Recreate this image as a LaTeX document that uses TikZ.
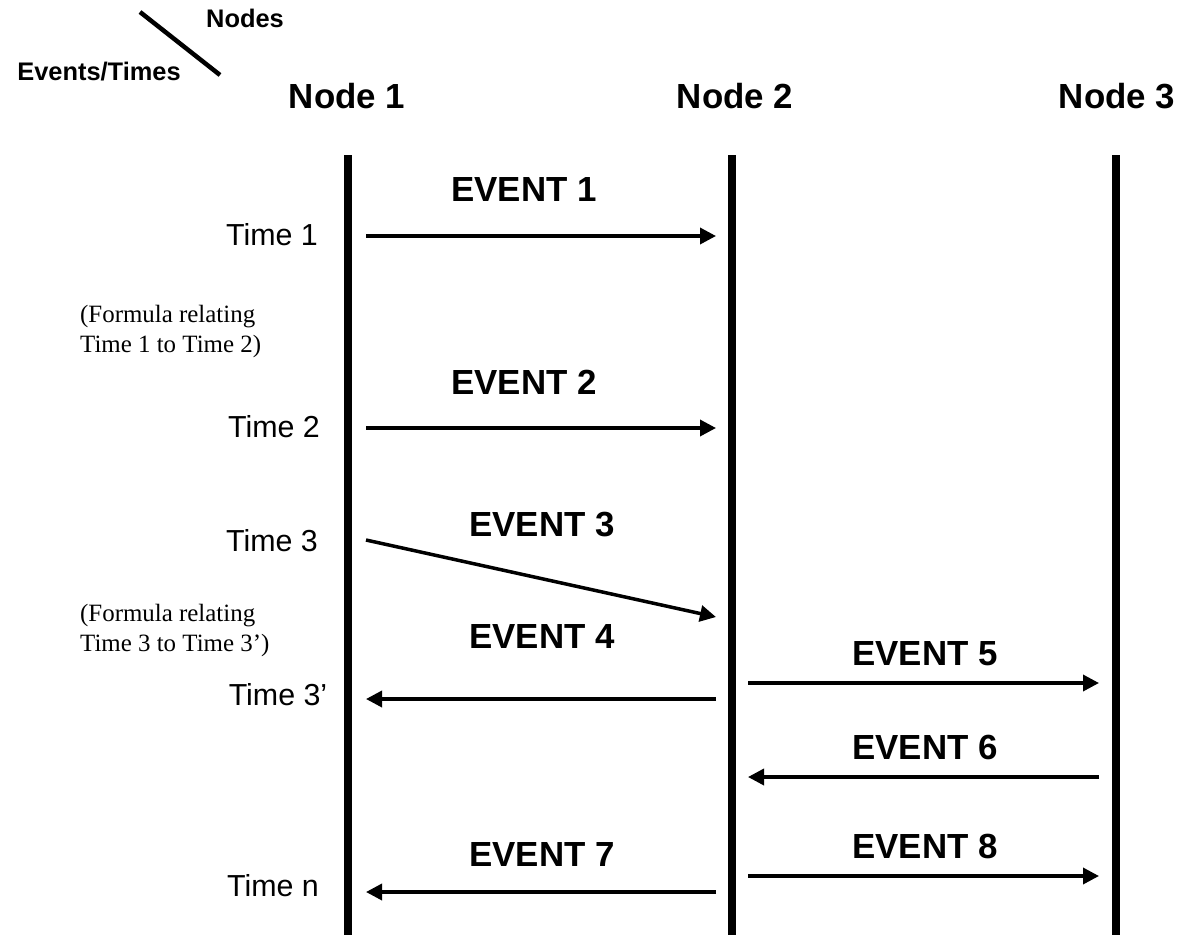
\documentclass[tikz,border=0pt]{standalone}
\usepackage{fontspec}
\setmainfont{Liberation Sans}
\newfontfamily\formfont{Liberation Serif}
\usetikzlibrary{arrows.meta,positioning}

\begin{document}
\begin{tikzpicture}[x=1bp,y=-1bp,
      hd/.style={font=\fontsize{35}{40}\selectfont\bfseries,inner sep=0pt,anchor=base},
      ev/.style={font=\fontsize{35}{40}\selectfont\bfseries,inner sep=0pt,anchor=base},
      tm/.style={font=\fontsize{30.5}{36}\selectfont,inner sep=0pt,anchor=base},
      fm/.style={font=\formfont\fontsize{25}{30}\selectfont,inner sep=0pt,anchor=north west,align=left},
      cornerlbl/.style={font=\fontsize{25.5}{30}\selectfont\bfseries,inner sep=0pt,anchor=base},
      life/.style={line width=8bp},
      msg/.style={line width=3.5bp,-{Triangle[length=16bp,width=16bp]}}]
  \useasboundingbox (0,0) rectangle (1184,935);
  % corner label
  \node[cornerlbl] (nodes) at (245,27) {Nodes};
  \node[cornerlbl] (evtimes) at (99,80) {Events/Times};
  \coordinate (s1) at (140,12); \coordinate (s2) at (220,75);
  \draw[line width=4.5bp] (s1) -- (s2);
  % headers and lifelines
  \node[hd] (h1) at (347,108) {Node 1};
  \node[hd] (h2) at (735,108) {Node 2};
  \node[hd] (h3) at (1117,108) {Node 3};
  \foreach \i/\x in {1/348,2/732,3/1116} {
    \coordinate (top\i) at (\x,155); \coordinate (bot\i) at (\x,935);
    \draw[life] (top\i) -- (bot\i);
  }
  % times
  \node[tm] (t1) at (272,245) {Time 1};
  \node[tm] (t2) at (274,437) {Time 2};
  \node[tm] (t3) at (272,551) {Time 3};
  \node[tm] (t3p) at (278,705) {Time 3’};
  \node[tm] (tn) at (273,896) {Time n};
  \node[fm] (f1) at (80,305) {(Formula relating\\Time 1 to Time 2)};
  \node[fm] (f2) at (80,604) {(Formula relating\\Time 3 to Time 3’)};
  % events
  \node[ev] (e1) at (524,201) {EVENT 1};
  \node[ev] (e2) at (524,394) {EVENT 2};
  \node[ev] (e3) at (542,536) {EVENT 3};
  \node[ev] (e4) at (542,648) {EVENT 4};
  \node[ev] (e5) at (925,665) {EVENT 5};
  \node[ev] (e6) at (925,759) {EVENT 6};
  \node[ev] (e7) at (542,866) {EVENT 7};
  \node[ev] (e8) at (925,858) {EVENT 8};
  % arrow ends on the lifelines
  \coordinate (a1) at (366,236); \coordinate (b1) at (716,236);
  \coordinate (a2) at (366,428); \coordinate (b2) at (716,428);
  \coordinate (a3) at (366,540); \coordinate (b3) at (716,617);
  \coordinate (a4) at (716,699); \coordinate (b4) at (366,699);
  \coordinate (a5) at (748,683); \coordinate (b5) at (1099,683);
  \coordinate (a6) at (1099,777); \coordinate (b6) at (748,777);
  \coordinate (a7) at (716,892); \coordinate (b7) at (366,892);
  \coordinate (a8) at (748,876); \coordinate (b8) at (1099,876);
  \foreach \k in {1,...,8} \draw[msg] (a\k) -- (b\k);
\end{tikzpicture}
\end{document}
